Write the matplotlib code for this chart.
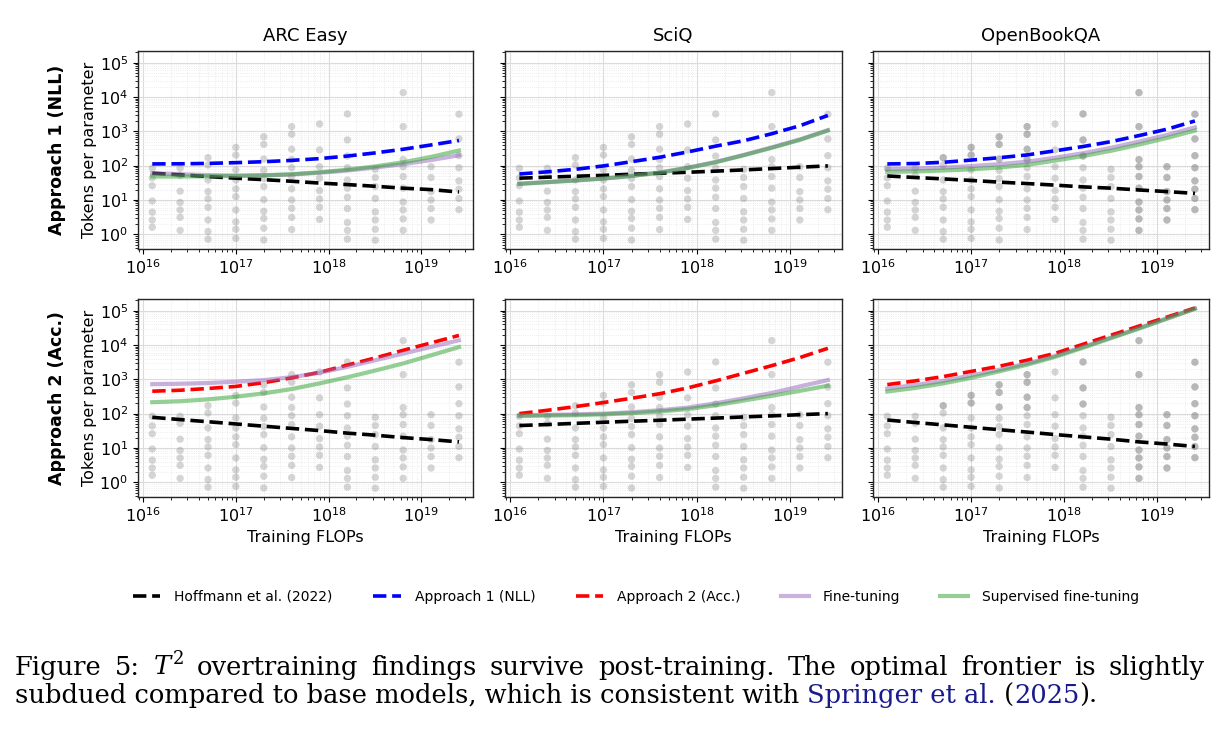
import matplotlib
matplotlib.use("Agg")
import matplotlib.pyplot as plt
from matplotlib.lines import Line2D

# ---------------- data ----------------
budgets = [1.25e16, 2.5e16, 5e16, 1e17, 2e17, 4e17, 8e17, 1.6e18, 3.2e18, 6.4e18, 1.28e19, 2.56e19]

# tokens-per-parameter of the trained runs at each FLOP budget (grey dots)
runs_tpp = [
    [84, 44, 26, 9.3, 4.4, 2.6, 1.6],
    [84, 52, 18, 8.5, 5.1, 3.1, 1.3],
    [170, 104, 38, 17.5, 10.7, 6.1, 2.6, 1.2, 0.72],
    [340, 204, 75, 38, 21, 12.5, 5.1, 2.3, 1.4, 0.76],
    [690, 415, 155, 73, 42, 24.5, 10.2, 4.7, 2.9, 1.5, 0.68],
    [1370, 820, 300, 150, 87, 48, 21, 10, 5.7, 3.1, 1.37],
    [1630, 287, 93, 43, 18.7, 10.7, 6.1, 2.7],
    [3200, 560, 190, 87, 38, 22, 12, 5.6, 2.2, 1.3, 0.72],
    [78, 45, 24.5, 11, 4.5, 2.6, 1.4, 0.67],
    [13400, 1370, 150, 93, 48, 22, 8.7, 5.1, 2.8, 1.3],
    [93, 45, 17.5, 10, 5.6, 2.6],
    [3150, 600, 195, 87, 36, 20.5, 11, 5.2],
]
# OpenBookQA has repeated runs at some points (darker dots)
obqa_repeat_tpp = [
    [], [], [170], [340, 204], [690, 415, 155], [1370, 820, 300, 150], [],
    [3200, 560, 190], [],
    [13400, 1370, 150, 93, 48, 22, 8.7, 5.1, 2.8, 1.3],
    [93, 45, 17.5, 10, 5.6, 2.6],
    [3150, 600, 195, 87, 36, 20.5, 11, 5.2],
]

datasets = ["ARC Easy", "SciQ", "OpenBookQA"]
row_names = ["Approach 1 (NLL)", "Approach 2 (Acc.)"]

# Row 1: Approach 1 (NLL)
arc_nll_hoffmann = [60, 54, 48, 43, 39, 35, 31, 28, 25, 22, 20, 17]
arc_nll_approach = [112, 113, 116, 122, 130, 142, 160, 190, 235, 300, 400, 540]
arc_nll_ft = [60, 56, 53, 51, 52, 55, 62, 72, 88, 110, 145, 200]
arc_nll_sft = [48, 48, 49, 50, 52, 56, 64, 76, 95, 125, 180, 275]

sciq_nll_hoffmann = [43, 46, 49, 52, 56, 60, 64, 69, 75, 82, 90, 98]
sciq_nll_approach = [57, 66, 78, 98, 130, 175, 250, 370, 530, 850, 1450, 2900]
sciq_nll_ft = [30, 33, 37, 42, 50, 63, 87, 128, 205, 340, 580, 1080]
sciq_nll_sft = [29, 33, 37, 42, 50, 62, 85, 125, 200, 330, 560, 1050]

obqa_nll_hoffmann = [50, 45, 41, 37, 33, 30, 27, 24, 22, 19.5, 17.5, 15.5]
obqa_nll_approach = [112, 115, 125, 145, 170, 205, 270, 360, 500, 750, 1150, 2000]
obqa_nll_ft = [80, 82, 87, 97, 110, 130, 170, 230, 330, 500, 780, 1300]
obqa_nll_sft = [66, 68, 72, 78, 88, 105, 140, 190, 270, 410, 640, 1050]

# Row 2: Approach 2 (Acc.)
arc_acc_hoffmann = [78, 67, 58, 50, 43, 37, 32, 27, 23.5, 20, 17.5, 15]
arc_acc_approach = [450, 480, 540, 620, 800, 1100, 1600, 2600, 4200, 7000, 11500, 19000]
arc_acc_ft = [720, 740, 780, 850, 950, 1150, 1550, 2300, 3600, 5600, 8800, 13700]
arc_acc_sft = [215, 230, 260, 310, 390, 520, 760, 1150, 1800, 2900, 5000, 8700]

sciq_acc_hoffmann = [45, 48, 52, 56, 60, 64, 69, 74, 80, 86, 93, 100]
sciq_acc_approach = [100, 125, 160, 210, 280, 380, 560, 900, 1500, 2500, 4300, 8000]
sciq_acc_ft = [90, 92, 95, 100, 110, 125, 150, 200, 280, 400, 620, 950]
sciq_acc_sft = [85, 88, 90, 95, 103, 115, 135, 175, 240, 330, 460, 650]

obqa_acc_hoffmann = [65, 55, 47, 40, 34, 29, 24.5, 21, 18, 15, 13, 11]
obqa_acc_approach = [700, 900, 1200, 1700, 2400, 3600, 5700, 10500, 19300, 35500, 65000, 120000]
obqa_acc_ft = [540, 680, 900, 1300, 1900, 2900, 4800, 8800, 16500, 31000, 60000, 115000]
obqa_acc_sft = [440, 560, 760, 1100, 1700, 2650, 4500, 8300, 15800, 30000, 58000, 113000]

legend_labels = ["Hoffmann et al. (2022)", "Approach 1 (NLL)", "Approach 2 (Acc.)",
                 "Fine-tuning", "Supervised fine-tuning"]

caption_line1 = "Figure 5: $T^2$ overtraining findings survive post-training. The optimal frontier is slightly"
caption_line2 = ["subdued compared to base models, which is consistent with ", "Springer et al.", " (", "2025", ")."]

# ---------------- plotting ----------------
curves = [
    [(arc_nll_hoffmann, arc_nll_approach, arc_nll_ft, arc_nll_sft),
     (sciq_nll_hoffmann, sciq_nll_approach, sciq_nll_ft, sciq_nll_sft),
     (obqa_nll_hoffmann, obqa_nll_approach, obqa_nll_ft, obqa_nll_sft)],
    [(arc_acc_hoffmann, arc_acc_approach, arc_acc_ft, arc_acc_sft),
     (sciq_acc_hoffmann, sciq_acc_approach, sciq_acc_ft, sciq_acc_sft),
     (obqa_acc_hoffmann, obqa_acc_approach, obqa_acc_ft, obqa_acc_sft)],
]
approach_colors = ["#0000ff", "#ff0000"]
FT_COLOR = "tab:purple"
SFT_COLOR = "tab:green"

fig = plt.figure(figsize=(12.3, 7.37), dpi=100)
W, H = 1230, 737
lefts = [138, 505, 873]
widths = [335, 337, 336]
tops = [51, 299]
ax_h = 198

scat_x = [b for b, col in zip(budgets, runs_tpp) for _ in col]
scat_y = [v for col in runs_tpp for v in col]
rep_x = [b for b, col in zip(budgets, obqa_repeat_tpp) for _ in col]
rep_y = [v for col in obqa_repeat_tpp for v in col]

axes = []
for r in range(2):
    for c in range(3):
        ax = fig.add_axes([lefts[c] / W, 1 - (tops[r] + ax_h) / H, widths[c] / W, ax_h / H])
        axes.append(ax)
        ax.set_xscale("log")
        ax.set_yscale("log")
        ax.scatter(scat_x, scat_y, s=28, color="gray", alpha=0.33, edgecolors="none", zorder=1)
        if c == 2:
            ax.scatter(rep_x, rep_y, s=28, color="gray", alpha=0.33, edgecolors="none", zorder=1)
        hoff, appr, ft, sft = curves[r][c]
        ax.plot(budgets, hoff, color="black", ls="--", lw=2.6, zorder=3)
        ax.plot(budgets, appr, color=approach_colors[r], ls="--", lw=2.6, zorder=3)
        ax.plot(budgets, ft, color=FT_COLOR, lw=3.0, alpha=0.5, zorder=4)
        ax.plot(budgets, sft, color=SFT_COLOR, lw=3.0, alpha=0.5, zorder=4)
        ax.set_xlim(10 ** 15.943, 10 ** 19.56)
        ax.set_ylim(10 ** -0.43, 10 ** 5.34)
        ax.grid(True, which="major", color="0.86", lw=0.8, zorder=0)
        ax.grid(True, which="minor", color="0.9", lw=0.6, ls=":", zorder=0)
        ax.set_axisbelow(True)
        ax.tick_params(labelsize=11.5)
        for sp in ax.spines.values():
            sp.set_linewidth(1.0)
            sp.set_color("0.15")
        ax.set_xticks([1e16, 1e17, 1e18, 1e19])
        ax.set_yticks([1e0, 1e1, 1e2, 1e3, 1e4, 1e5])
        if c != 0:
            ax.tick_params(axis="y", which="both", labelleft=False)
        else:
            ax.set_ylabel("Tokens per parameter", fontsize=11.5, labelpad=2)
        if r == 0:
            ax.set_title(datasets[c], fontsize=13, pad=7)
        else:
            ax.set_xlabel("Training FLOPs", fontsize=11.5, labelpad=3)

for r in range(2):
    yc = 1 - (tops[r] + ax_h / 2) / H
    fig.text(57 / W, yc, row_names[r], rotation=90, fontsize=12.5, fontweight="bold",
             ha="center", va="center")

handles = [
    Line2D([], [], color="black", ls="--", lw=2.6),
    Line2D([], [], color="#0000ff", ls="--", lw=2.6),
    Line2D([], [], color="#ff0000", ls="--", lw=2.6),
    Line2D([], [], color=FT_COLOR, lw=3.0, alpha=0.5),
    Line2D([], [], color=SFT_COLOR, lw=3.0, alpha=0.5),
]
fig.legend(handles, legend_labels, loc="center", bbox_to_anchor=(636 / W, 1 - 597 / H),
           ncol=5, frameon=False, fontsize=10, handlelength=2.0, columnspacing=2.9,
           handletextpad=1.0)

# ---------------- caption ----------------
renderer = fig.canvas.get_renderer()
CAP_FAMILY = "DejaVu Serif"
x0 = 15 / W
probe = fig.text(x0, 0.5, caption_line1, fontsize=10, family=CAP_FAMILY,
                 math_fontfamily="dejavuserif")
wpx = probe.get_window_extent(renderer).width
probe.remove()
cap_size = 10 * 1140 / wpx

# line 1: justified across the full width (15 px .. 1205 px)
words = caption_line1.split(" ")
word_objs = []
total = 0.0
for wd in words:
    t = fig.text(x0, 1 - 675 / H, wd, fontsize=cap_size, family=CAP_FAMILY,
                 math_fontfamily="dejavuserif", va="baseline")
    w = t.get_window_extent(renderer).width
    word_objs.append((t, w))
    total += w
gap = (1190 - total) / (len(words) - 1)
xp = 15.0
for t, w in word_objs:
    t.set_x(xp / W)
    xp += w + gap

colors2 = ["black", "#1a1a8f", "black", "#1a1a8f", "black"]
x = x0
for piece, col in zip(caption_line2, colors2):
    t = fig.text(x, 1 - 703 / H, piece, fontsize=cap_size, family=CAP_FAMILY,
                 color=col, va="baseline")
    x += t.get_window_extent(renderer).width / W

fig.savefig("out.png", dpi=100)
